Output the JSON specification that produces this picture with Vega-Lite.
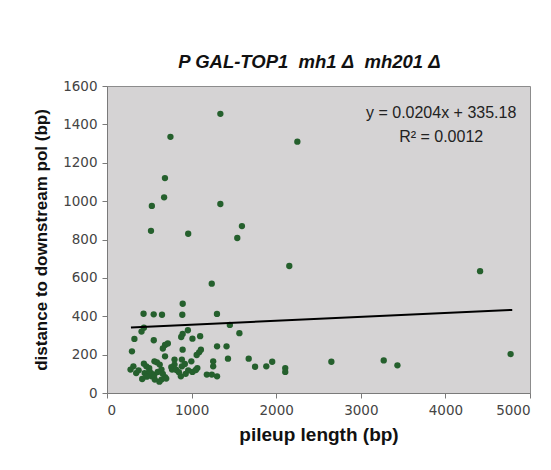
{
  "$schema": "https://vega.github.io/schema/vega-lite/v6.json",
  "width": 423,
  "height": 307,
  "autosize": "none",
  "padding": {"left": 107, "top": 86, "right": 21, "bottom": 77},
  "background": "white",
  "title": {
    "text": "P GAL-TOP1\u00a0\u00a0mh1\u00a0Δ\u00a0\u00a0mh201\u00a0Δ",
    "font": "Liberation Sans",
    "fontSize": 18.5,
    "fontWeight": "bold",
    "fontStyle": "italic",
    "color": "#111111",
    "anchor": "middle",
    "dx": -9,
    "offset": 8
  },
  "datasets": {
    "points": [
      {"pileup": 1340, "distance": 1455}, {"pileup": 750, "distance": 1335}, {"pileup": 2250, "distance": 1310},
      {"pileup": 685, "distance": 1120}, {"pileup": 675, "distance": 1020}, {"pileup": 530, "distance": 975},
      {"pileup": 1340, "distance": 985}, {"pileup": 520, "distance": 845}, {"pileup": 960, "distance": 830},
      {"pileup": 1595, "distance": 870}, {"pileup": 1540, "distance": 808}, {"pileup": 2155, "distance": 662},
      {"pileup": 4410, "distance": 635}, {"pileup": 1238, "distance": 570}, {"pileup": 895, "distance": 465},
      {"pileup": 432, "distance": 413}, {"pileup": 552, "distance": 410}, {"pileup": 650, "distance": 408},
      {"pileup": 890, "distance": 408}, {"pileup": 1300, "distance": 412}, {"pileup": 1452, "distance": 355},
      {"pileup": 1565, "distance": 312}, {"pileup": 408, "distance": 320}, {"pileup": 436, "distance": 340},
      {"pileup": 324, "distance": 282}, {"pileup": 295, "distance": 217}, {"pileup": 553, "distance": 275},
      {"pileup": 686, "distance": 250}, {"pileup": 719, "distance": 258}, {"pileup": 956, "distance": 327},
      {"pileup": 894, "distance": 308}, {"pileup": 877, "distance": 292}, {"pileup": 1010, "distance": 283},
      {"pileup": 1101, "distance": 296}, {"pileup": 894, "distance": 226}, {"pileup": 1089, "distance": 212},
      {"pileup": 1110, "distance": 226}, {"pileup": 1301, "distance": 243}, {"pileup": 1413, "distance": 243},
      {"pileup": 1430, "distance": 179}, {"pileup": 1255, "distance": 165}, {"pileup": 1255, "distance": 139},
      {"pileup": 1180, "distance": 96}, {"pileup": 1239, "distance": 96}, {"pileup": 1301, "distance": 87},
      {"pileup": 686, "distance": 191}, {"pileup": 798, "distance": 174}, {"pileup": 798, "distance": 148},
      {"pileup": 885, "distance": 174}, {"pileup": 885, "distance": 139}, {"pileup": 920, "distance": 151},
      {"pileup": 997, "distance": 165}, {"pileup": 1068, "distance": 130}, {"pileup": 1010, "distance": 110},
      {"pileup": 873, "distance": 87}, {"pileup": 769, "distance": 122}, {"pileup": 686, "distance": 83},
      {"pileup": 644, "distance": 70}, {"pileup": 619, "distance": 59}, {"pileup": 565, "distance": 70},
      {"pileup": 528, "distance": 87}, {"pileup": 520, "distance": 104}, {"pileup": 561, "distance": 165},
      {"pileup": 590, "distance": 160}, {"pileup": 623, "distance": 148}, {"pileup": 644, "distance": 122},
      {"pileup": 416, "distance": 73}, {"pileup": 445, "distance": 104}, {"pileup": 465, "distance": 139},
      {"pileup": 499, "distance": 130}, {"pileup": 436, "distance": 153}, {"pileup": 312, "distance": 139},
      {"pileup": 278, "distance": 122}, {"pileup": 345, "distance": 104}, {"pileup": 374, "distance": 118},
      {"pileup": 480, "distance": 100}, {"pileup": 500, "distance": 115}, {"pileup": 560, "distance": 95},
      {"pileup": 600, "distance": 110}, {"pileup": 470, "distance": 85}, {"pileup": 660, "distance": 100},
      {"pileup": 700, "distance": 75}, {"pileup": 760, "distance": 135}, {"pileup": 820, "distance": 120},
      {"pileup": 850, "distance": 108}, {"pileup": 930, "distance": 100}, {"pileup": 960, "distance": 118},
      {"pileup": 1050, "distance": 120}, {"pileup": 1060, "distance": 198}, {"pileup": 660, "distance": 232},
      {"pileup": 1675, "distance": 179}, {"pileup": 1750, "distance": 137}, {"pileup": 1883, "distance": 139},
      {"pileup": 1953, "distance": 163}, {"pileup": 2107, "distance": 130}, {"pileup": 2107, "distance": 110},
      {"pileup": 2652, "distance": 163}, {"pileup": 3271, "distance": 170}, {"pileup": 3433, "distance": 144},
      {"pileup": 4771, "distance": 203}
    ],
    "trend": [
      {"pileup": 283, "distance": 341},
      {"pileup": 4790, "distance": 433}
    ],
    "labels": [
      {"pileup": 3950, "distance": 1460, "text": "y = 0.0204x + 335.18"},
      {"pileup": 3950, "distance": 1335, "text": "R² = 0.0012"}
    ]
  },
  "encoding": {
    "x": {
      "field": "pileup",
      "type": "quantitative",
      "scale": {"domain": [0, 5000], "nice": false},
      "axis": {"title": "pileup length (bp)", "format": "d", "values": [0, 1000, 2000, 3000, 4000, 5000]}
    },
    "y": {
      "field": "distance",
      "type": "quantitative",
      "scale": {"domain": [0, 1600], "nice": false},
      "axis": {"title": "distance to downstream pol (bp)", "format": "d", "values": [0, 200, 400, 600, 800, 1000, 1200, 1400, 1600]}
    }
  },
  "layer": [
    {
      "data": {"name": "points"},
      "mark": {"type": "circle", "size": 40, "color": "#25602d", "opacity": 1}
    },
    {
      "data": {"name": "trend"},
      "mark": {"type": "line", "color": "#000000", "strokeWidth": 2}
    },
    {
      "data": {"name": "labels"},
      "mark": {"type": "text", "font": "Liberation Sans", "fontSize": 16, "color": "#222222", "align": "center", "baseline": "middle"},
      "encoding": {"text": {"field": "text"}}
    }
  ],
  "config": {
    "view": {"fill": "#d5d3d4", "stroke": "#8c8c8c", "strokeWidth": 1},
    "axis": {
      "grid": false,
      "domainColor": "#7a7a7a",
      "tickColor": "#7a7a7a",
      "tickSize": 5,
      "labelFont": "DejaVu Sans",
      "labelFontSize": 13.5,
      "labelColor": "#444444",
      "titleFont": "Liberation Sans",
      "titleFontWeight": "bold",
      "titleColor": "#111111"
    },
    "axisX": {"labelPadding": 5, "titleFontSize": 19, "titlePadding": 9},
    "axisY": {"labelPadding": 5, "titleFontSize": 17, "titlePadding": 12}
  }
}
